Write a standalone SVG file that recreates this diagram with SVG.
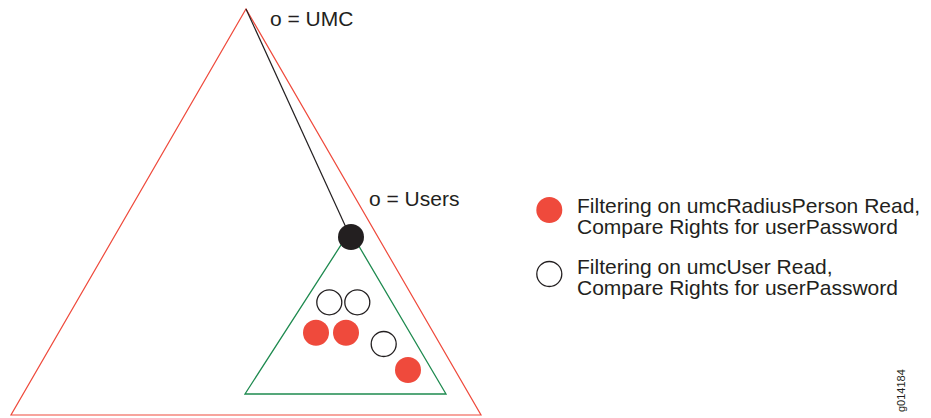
<svg xmlns="http://www.w3.org/2000/svg" width="931" height="418" viewBox="0 0 931 418">
  <style>
    text { font-family: "Liberation Sans", Arial, sans-serif; fill: #231f20; }
    .lbl { font-size: 21px; }
    .red { fill: #ef4a3c; }
    .open { fill: #ffffff; stroke: #231f20; stroke-width: 1.3; }
  </style>
  <rect width="931" height="418" fill="#ffffff"/>
  <g id="outer-tree">
    <polygon points="246,9 481,415 11,415" fill="none" stroke="#ef4a3c" stroke-width="1.2"/>
  </g>
  <g id="users-tree">
    <polygon points="350,231 446,394 245,394" fill="none" stroke="#1e8a4f" stroke-width="1.3"/>
  </g>
  <g id="connectors">
    <line x1="246" y1="9" x2="349" y2="234" stroke="#231f20" stroke-width="1.2"/>
  </g>
  <g id="users-node">
    <circle cx="351" cy="237" r="13" fill="#231f20"/>
  </g>
  <g id="entries">
    <circle class="open" cx="329.3" cy="302.3" r="12.5"/>
    <circle class="open" cx="357.3" cy="302.3" r="12.5"/>
    <circle class="open" cx="383.7" cy="344" r="12.5"/>
    <circle class="red" cx="316" cy="332.7" r="13"/>
    <circle class="red" cx="346" cy="332.7" r="13"/>
    <circle class="red" cx="408" cy="370" r="13"/>
  </g>
  <g id="labels">
    <text class="lbl" x="270" y="26">o = UMC</text>
    <text class="lbl" x="369" y="206">o = Users</text>
  </g>
  <g id="legend">
    <circle class="red" cx="549.3" cy="210" r="13"/>
    <text class="lbl" x="577" y="213">Filtering on umcRadiusPerson Read,</text>
    <text class="lbl" x="577" y="234">Compare Rights for userPassword</text>
    <circle class="open" cx="549.3" cy="274" r="12.5"/>
    <text class="lbl" x="577" y="274">Filtering on umcUser Read,</text>
    <text class="lbl" x="577" y="295">Compare Rights for userPassword</text>
  </g>
  <text x="905" y="412" font-size="11" transform="rotate(-90 905 412)">g014184</text>
</svg>
